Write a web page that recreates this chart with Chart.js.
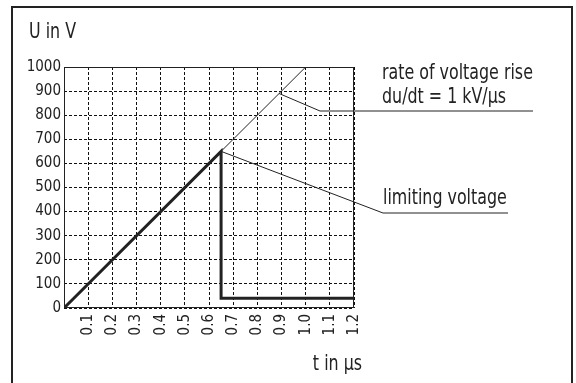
<!DOCTYPE html>
<html lang="en">
<head>
    <meta charset="UTF-8">
    <title>Rate of voltage rise</title>
    <script src="https://cdn.jsdelivr.net/npm/chart.js"></script>
    <style>
        body {
            margin: 0;
            padding: 0;
            background-color: white;
        }
        .frame {
            position: absolute;
            left: 11px;
            top: 6px;
            width: 562px;
            height: 400px;
            border: 2px solid #222;
            box-sizing: border-box;
        }
        .chart-box {
            position: absolute;
            left: 0;
            top: 0;
            width: 576px;
            height: 383px;
        }
    </style>
</head>
<body>

    <div class="frame"></div>
    <div class="chart-box">
        <canvas id="chart"></canvas>
    </div>

    <script>
        // thin line: du/dt = 1 kV/us
        const rateT = [0, 1.0];
        const rateU = [0, 1000];
        // thick line: limited voltage
        const limitT = [0, 0.65, 0.65, 1.2];
        const limitU = [0, 650, 40, 40];
        // axis ranges
        const tMin = 0, tMax = 1.2, tStep = 0.1;
        const uMin = 0, uMax = 1000, uStep = 100;

        const FONT = "'DejaVu Sans Condensed', 'Liberation Sans', sans-serif";
        const INK = '#222';

        function toPoints(xs, ys) {
            return xs.map((x, i) => ({ x: x, y: ys[i] }));
        }

        // condensed text, squeezed a bit sideways
        function label(ctx, text, x, y, align) {
            ctx.save();
            ctx.translate(x, y);
            ctx.scale(0.84, 1);
            ctx.textAlign = align;
            ctx.fillText(text, 0, 0);
            ctx.restore();
        }

        // frame round the plot, leader lines and free text
        const decor = {
            id: 'decor',
            afterDraw(chart) {
                const ctx = chart.ctx;
                const a = chart.chartArea;
                const xs = chart.scales.x, ys = chart.scales.y;
                ctx.save();
                ctx.strokeStyle = INK;
                ctx.lineWidth = 1;
                ctx.strokeRect(a.left + 0.5, a.top + 0.5, a.right - a.left - 1, a.bottom - a.top - 1);

                // leader for the rate line
                const rx = xs.getPixelForValue(0.89);
                const ry = ys.getPixelForValue(rateU[1] * 0.89 / rateT[1]);
                ctx.beginPath();
                ctx.moveTo(rx, ry);
                ctx.lineTo(a.right - 34, 111);
                ctx.lineTo(533, 111);
                ctx.stroke();

                // leader for the limiting voltage, from the peak
                const px = xs.getPixelForValue(limitT[1]);
                const py = ys.getPixelForValue(limitU[1]);
                ctx.beginPath();
                ctx.moveTo(px, py);
                ctx.lineTo(383, 213);
                ctx.lineTo(508, 213);
                ctx.stroke();

                ctx.fillStyle = INK;
                ctx.textBaseline = 'alphabetic';
                ctx.font = '21px ' + FONT;
                label(ctx, 'rate of voltage rise', 382, 79, 'left');
                label(ctx, 'du/dt = 1 kV/µs', 382, 103, 'left');
                label(ctx, 'limiting voltage', 383, 204, 'left');
                label(ctx, 'U in V', 29, 38, 'left');
                label(ctx, 't in µs', 362, 370, 'right');
                ctx.restore();
            }
        };

        new Chart(document.getElementById('chart'), {
            type: 'scatter',
            data: {
                datasets: [
                    {
                        label: 'du/dt',
                        data: toPoints(rateT, rateU),
                        showLine: true,
                        borderColor: INK,
                        borderWidth: 1,
                        pointRadius: 0
                    },
                    {
                        label: 'limiting voltage',
                        data: toPoints(limitT, limitU),
                        showLine: true,
                        borderColor: INK,
                        borderWidth: 3,
                        pointRadius: 0,
                        borderJoinStyle: 'miter'
                    }
                ]
            },
            options: {
                responsive: true,
                maintainAspectRatio: false,
                animation: false,
                layout: {
                    padding: { left: 0, top: 67, right: 222, bottom: 0 }
                },
                plugins: {
                    legend: { display: false },
                    tooltip: { enabled: false }
                },
                scales: {
                    x: {
                        type: 'linear',
                        min: tMin,
                        max: tMax,
                        afterFit: (s) => { s.height = 75; },
                        grid: { color: '#111', lineWidth: 1, drawTicks: false },
                        border: { display: false, dash: [3, 2] },
                        ticks: {
                            stepSize: tStep,
                            autoSkip: false,
                            minRotation: 90,
                            maxRotation: 90,
                            padding: 6,
                            color: INK,
                            font: { family: FONT, size: 15 },
                            callback: (v) => v === 0 ? '' : v.toFixed(1)
                        }
                    },
                    y: {
                        min: uMin,
                        max: uMax,
                        afterFit: (s) => { s.width = 64; },
                        grid: { color: '#111', lineWidth: 1, drawTicks: false },
                        border: { display: false, dash: [3, 2] },
                        ticks: {
                            stepSize: uStep,
                            padding: 3,
                            color: INK,
                            font: { family: FONT, size: 15 },
                            callback: (v) => String(v)
                        }
                    }
                }
            },
            plugins: [decor]
        });
    </script>

</body>
</html>
